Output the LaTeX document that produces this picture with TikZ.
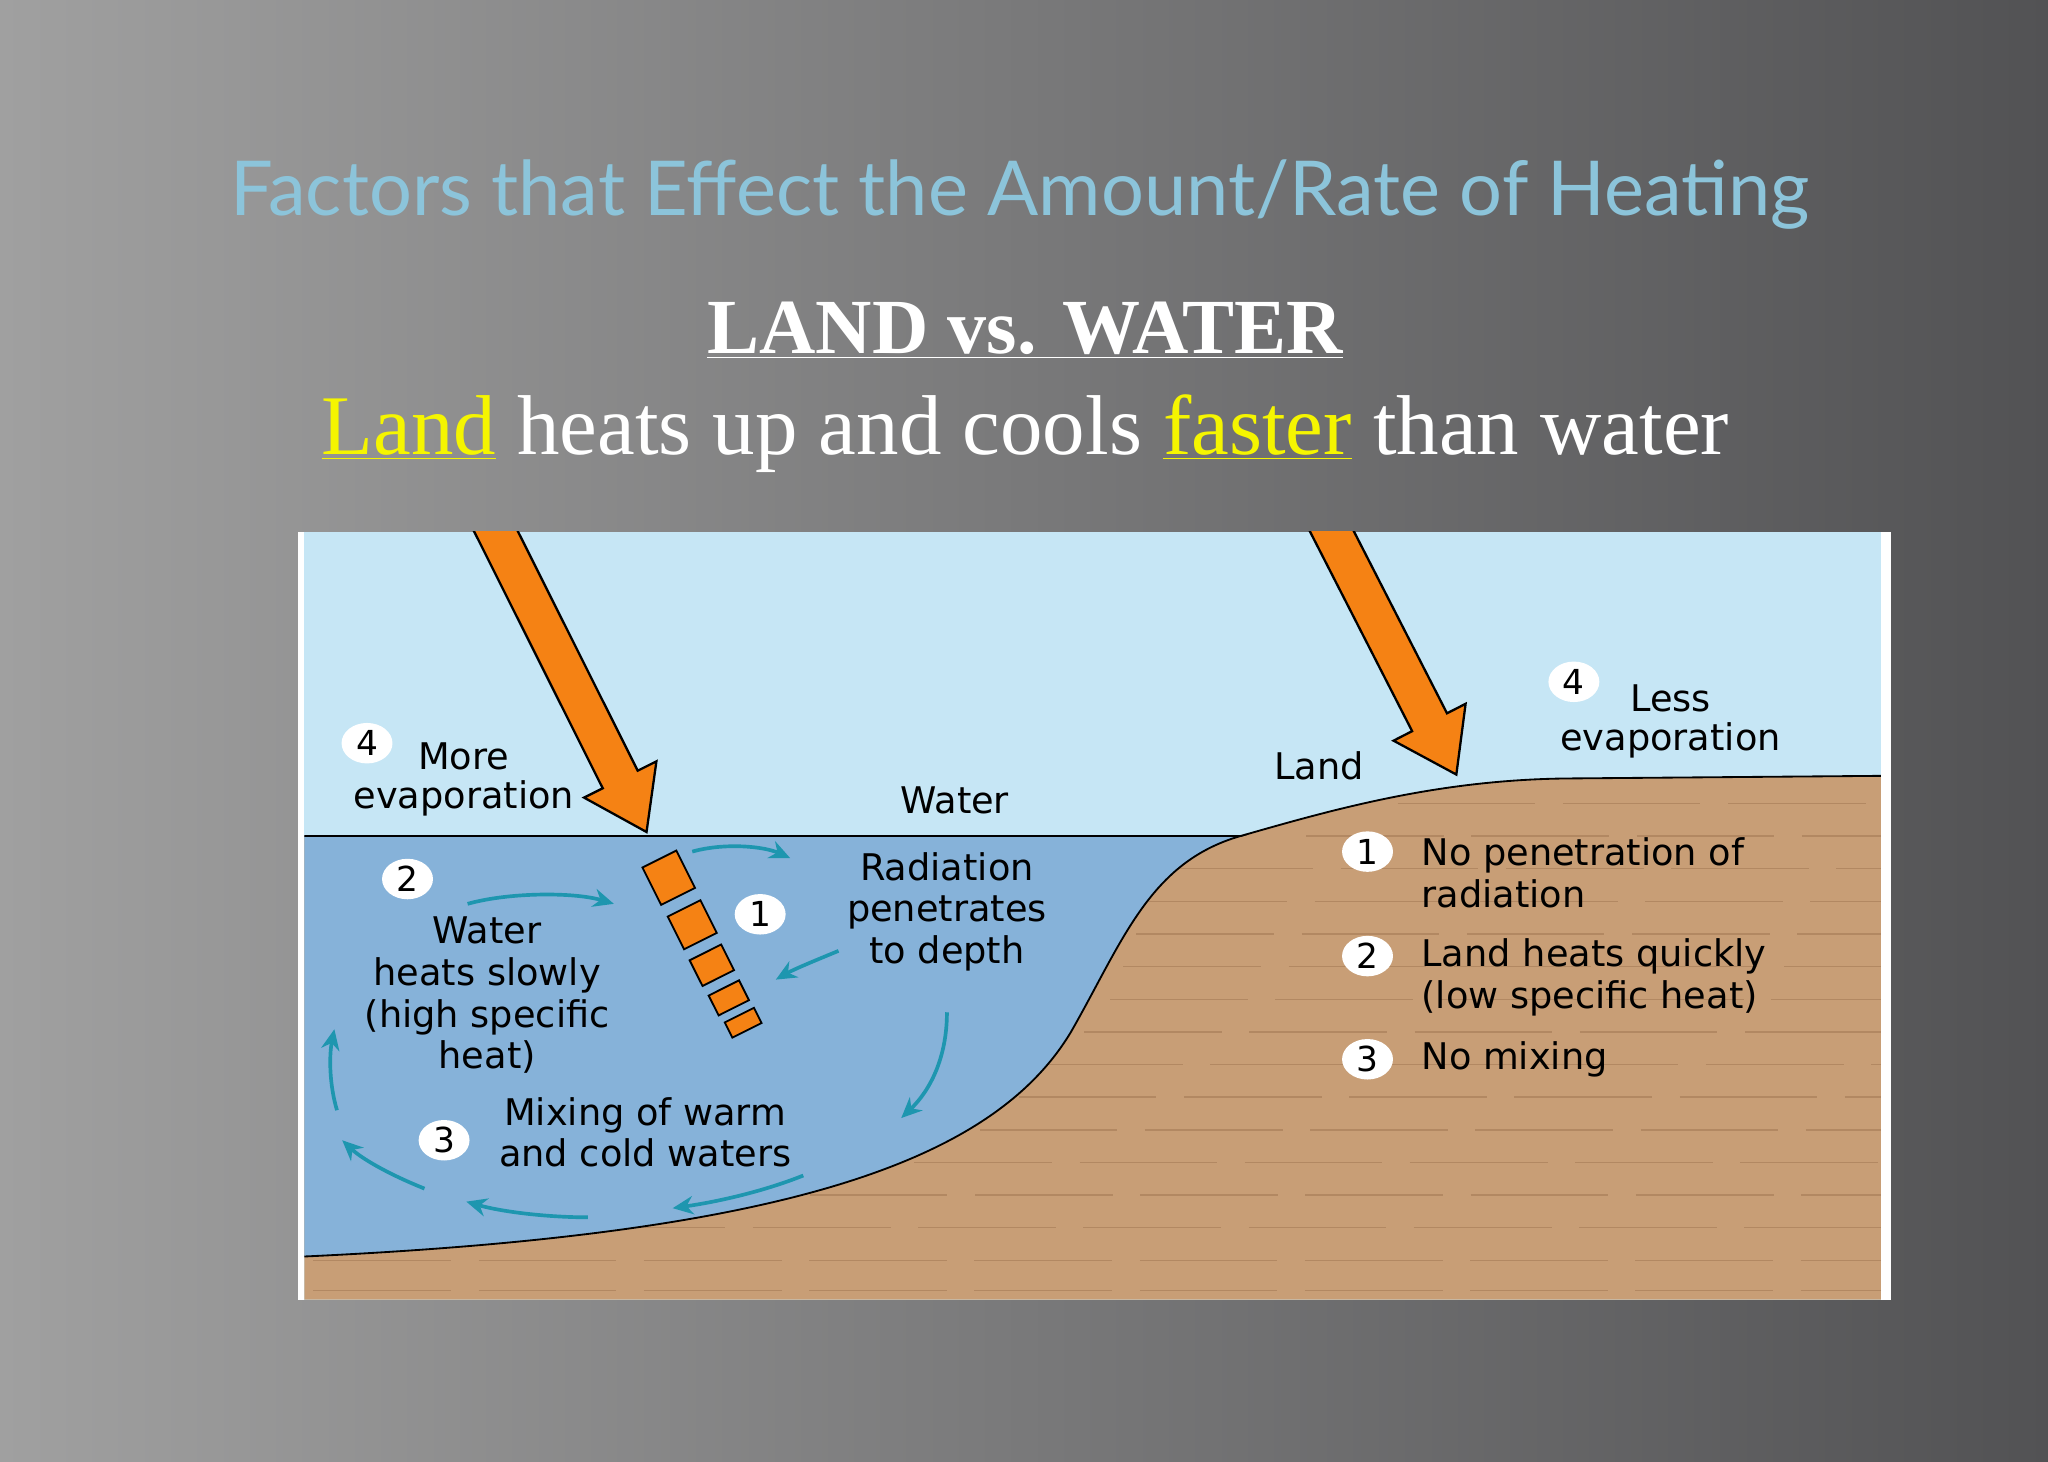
\documentclass[tikz,border=0pt]{standalone}
\usepackage{fontspec}
\setmainfont{Liberation Serif}
\newfontfamily\diag{DejaVu Sans}
\newfontfamily\ttl{Lato}
\usetikzlibrary{arrows.meta,shapes.geometric}
\definecolor{bgL}{RGB}{160,160,160}
\definecolor{bgR}{RGB}{82,82,84}
\definecolor{sky}{RGB}{198,230,245}
\definecolor{wat}{RGB}{134,178,217}
\definecolor{lnd}{RGB}{200,158,118}
\definecolor{lndl}{RGB}{178,136,98}
\definecolor{org}{RGB}{245,130,20}
\definecolor{teal}{RGB}{30,150,175}
\definecolor{ttlc}{RGB}{140,196,218}
\definecolor{yel}{RGB}{245,245,0}
\tikzset{
 lbl/.style={font=\diag\fontsize{16}{18.2}\selectfont, align=center, inner sep=0pt},
 lbll/.style={lbl, anchor=west, align=left},
 num/.style={draw=none, fill=white, ellipse, minimum width=0.78cm, minimum height=0.62cm, inner sep=0pt, font=\diag\fontsize{15}{15}\selectfont},
 tarr/.style={draw=teal, line width=1.6pt, -{Stealth[length=9pt,width=8pt]}},
 blk/.style={draw=black, fill=org, line width=0.8pt, rotate=-63.4, inner sep=0pt}
}
\begin{document}
\begin{tikzpicture}[x=0.02cm,y=-0.02cm]
\useasboundingbox (0,0) rectangle (1568,1119);
\shade[left color=bgL, right color=bgR] (0,0) rectangle (1568,1119);
\node[font=\ttl\fontsize{33}{38}\selectfont, text=ttlc] (title) at (781,149) {Factors that Effect the Amount/Rate of Heating};
\node[font=\fontsize{34}{40}\selectfont\bfseries, text=white] (sub) at (785,253) {\underline{LAND vs. WATER}};
\node[font=\fontsize{37}{42}\selectfont, text=white] (sub2) at (785,332) {{\color{yel}\underline{Land}} heats up and cools {\color{yel}\underline{faster}} than water};
% panel
\fill[white] (228,407) rectangle (1448,995);
\fill[sky] (233,407) rectangle (1440,995);
\begin{scope}
\clip (233,407) rectangle (1440,995);
\fill[lnd] (950,640) .. controls (1020,620) and (1100,597) .. (1200,596) -- (1440,594) -- (1440,995) -- (233,995) -- (233,640) -- cycle;
\draw[black, line width=0.8pt] (950,640) .. controls (1020,620) and (1100,597) .. (1200,596) -- (1440,594);
\foreach \yy/\xa/\xb in {615/1070/1440, 640/1000/1440, 665/900/1440, 690/880/1440, 715/870/1440, 740/860/1440, 765/850/1440, 790/830/1440, 815/800/1440, 840/780/1440, 865/750/1440, 890/700/1440, 915/620/1440, 940/450/1440, 965/240/1440, 988/240/1440}
  \draw[lndl, line width=0.6pt, dash pattern=on 60pt off 12pt] (\xa,\yy) -- (\xb,\yy);
\fill[wat] (233,640) -- (950,640) .. controls (880,660) and (860,720) .. (820,790) .. controls (760,890) and (600,945) .. (233,962) -- cycle;
\draw[black, line width=0.8pt] (233,640) -- (950,640) .. controls (880,660) and (860,720) .. (820,790) .. controls (760,890) and (600,945) .. (233,962);
% big arrows
\begin{scope}[shift={(495,637)}, x=1cm, y=1cm, rotate=-63.4]
\draw[fill=org, line width=1pt] (0,0) -- (-0.9,0.62) -- (-0.9,0.3) -- (-5.6,0.3) -- (-5.6,-0.3) -- (-0.9,-0.3) -- (-0.9,-0.62) -- cycle;
\end{scope}
\begin{scope}[shift={(1115,593)}, x=1cm, y=1cm, rotate=-62.9]
\draw[fill=org, line width=1pt] (0,0) -- (-0.9,0.62) -- (-0.9,0.3) -- (-4.8,0.3) -- (-4.8,-0.3) -- (-0.9,-0.3) -- (-0.9,-0.62) -- cycle;
\end{scope}
\end{scope}
% blocks
\node[blk, minimum width=0.64cm, minimum height=0.58cm] (b1) at (512,672) {};
\node[blk, minimum width=0.56cm, minimum height=0.56cm] (b2) at (530,708) {};
\node[blk, minimum width=0.44cm, minimum height=0.54cm] (b3) at (545,739) {};
\node[blk, minimum width=0.34cm, minimum height=0.52cm] (b4) at (558,764) {};
\node[blk, minimum width=0.26cm, minimum height=0.50cm] (b5) at (569,783) {};
% teal arrows
\draw[tarr] (530,652) .. controls (555,645) and (585,648) .. (605,657);
\draw[tarr] (358,692) .. controls (390,683) and (440,683) .. (470,692);
\draw[tarr] (642,728) .. controls (625,735) and (608,742) .. (594,750);
\draw[tarr] (725,775) .. controls (725,810) and (712,835) .. (690,856);
\draw[tarr] (615,900) .. controls (585,912) and (550,920) .. (515,925);
\draw[tarr] (450,932) .. controls (420,932) and (385,928) .. (357,920);
\draw[tarr] (325,910) .. controls (300,900) and (278,888) .. (262,873);
\draw[tarr] (258,850) .. controls (252,830) and (252,808) .. (256,788);
% numbers
\node[num] (n4a) at (281,569) {4};
\node[num] (n2a) at (312,673) {2};
\node[num] (n1a) at (582,700) {1};
\node[num] (n3a) at (340,873) {3};
\node[num] (n4b) at (1205,522) {4};
\node[num] (n1b) at (1047,652) {1};
\node[num] (n2b) at (1047,732) {2};
\node[num] (n3b) at (1047,811) {3};
% labels
\node[lbl] (t1) at (355,579) {More};
\node[lbl] (t2) at (355,611) {evaporation};
\node[lbl] (t3) at (731,613) {Water};
\node[lbl] (t4) at (725,698) {Radiation\\penetrates\\to depth};
\node[lbl] (t5) at (373,762) {Water\\heats slowly\\(high specific\\heat)};
\node[lbl] (t6) at (494,867) {Mixing of warm\\and cold waters};
\node[lbl] (t7) at (1010,586) {Land};
\node[lbl] (t8) at (1279,535) {Less};
\node[lbl] (t9) at (1279,567) {evaporation};
\node[lbll] (t10) at (1088,668) {No penetration of\\radiation};
\node[lbll] (t11) at (1088,748) {Land heats quickly\\(low specific heat)};
\node[lbll] (t12) at (1088,811) {No mixing};
\end{tikzpicture}
\end{document}
